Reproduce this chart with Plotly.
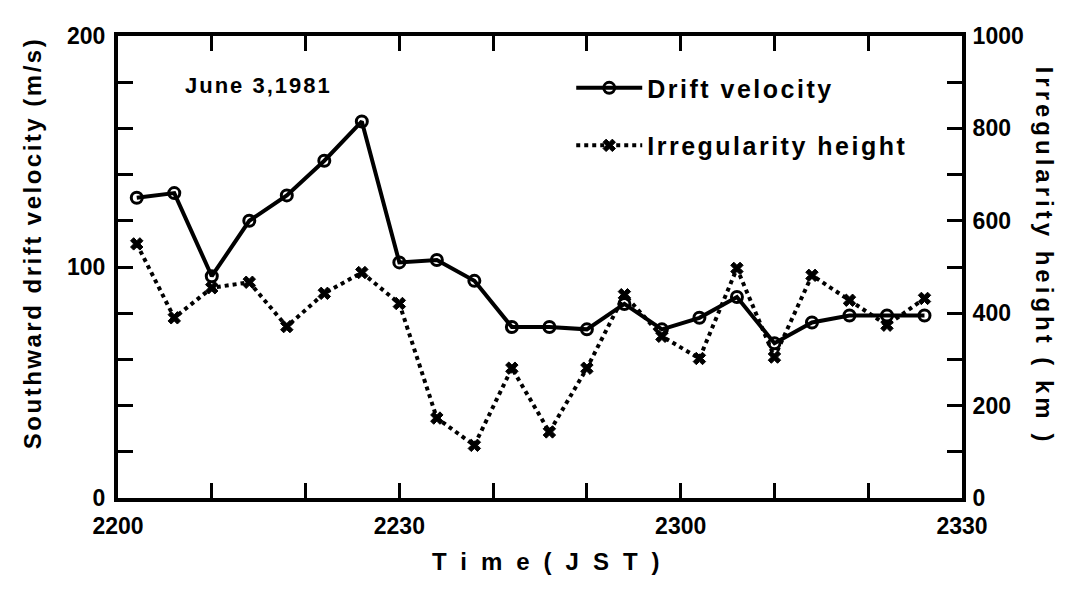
import plotly.graph_objects as go

# Observation times (JST, HHMM), June 3, 1981
times = ["2202", "2206", "2210", "2214", "2218", "2222", "2226", "2230",
         "2234", "2238", "2242", "2246", "2250", "2254", "2258", "2302",
         "2306", "2310", "2314", "2318", "2322", "2326"]

# Southward drift velocity (m/s)
drift_velocity = [130, 132, 96, 120, 131, 146, 163, 102,
                  103, 94, 74, 74, 73, 84, 73, 78,
                  87, 67, 76, 79, 79, 79]

# Irregularity height (km)
irregularity_height = [550, 390, 455, 467, 371, 443, 488, 421,
                       173, 114, 281, 143, 281, 440, 350, 302,
                       497, 305, 482, 428, 374, 432]

x_tick_labels = ["2200", "2230", "2300", "2330"]
left_tick_labels = [0, 100, 200]
right_tick_labels = [0, 200, 400, 600, 800, 1000]

DAY = "1981-06-03"


def to_stamp(hhmm):
    return f"{DAY} {hhmm[:2]}:{hhmm[2:]}"


def spaced(text, px):
    return f'<span style="letter-spacing:{px}px">{text}</span>'


x = [to_stamp(t) for t in times]
x_ticks = [to_stamp(t) for t in x_tick_labels]

FONT = "Liberation Sans, Arial, sans-serif"
INK = "black"

fig = go.Figure()

fig.add_trace(go.Scatter(
    x=x, y=drift_velocity, name=spaced("Drift velocity", 2.5),
    mode="lines+markers", legendgroup="v",
    line=dict(color=INK, width=4),
    marker=dict(symbol="circle-open", size=11, color=INK, line=dict(width=3, color=INK)),
))

fig.add_trace(go.Scatter(
    x=x, y=irregularity_height, name=spaced("Irregularity height", 2.5),
    mode="lines+markers", legendgroup="h", yaxis="y2",
    line=dict(color=INK, width=4, dash="dot"),
    marker=dict(symbol="x", size=11, color=INK, line=dict(width=1, color=INK)),
))

tick_font = dict(family=FONT, size=23, color=INK, weight="bold")

fig.update_layout(
    width=1078, height=593,
    margin=dict(l=118, r=116, t=36, b=95),
    paper_bgcolor="white", plot_bgcolor="white",
    showlegend=True,
    legend=dict(
        x=0.537, y=0.937, xanchor="left", yanchor="top",
        bgcolor="rgba(0,0,0,0)", borderwidth=0,
        font=dict(family=FONT, size=25, color=INK, weight="bold"),
        traceorder="grouped", tracegroupgap=22, itemwidth=66,
    ),
    xaxis=dict(
        range=[to_stamp("2200"), to_stamp("2330")],
        tickmode="array", tickvals=x_ticks, ticktext=x_tick_labels,
        ticks="inside", ticklen=15, tickwidth=3, tickcolor=INK,
        minor=dict(dtick=600000, tick0=to_stamp("2200"), ticks="inside",
                   ticklen=15, tickwidth=3, tickcolor=INK),
        showline=True, linewidth=4, linecolor=INK, mirror="ticks",
        showgrid=False, zeroline=False,
        tickfont=tick_font, ticklabelstandoff=4,
    ),
    yaxis=dict(
        range=[0, 200],
        tickmode="array", tickvals=left_tick_labels,
        ticks="inside", ticklen=15, tickwidth=3, tickcolor=INK,
        minor=dict(dtick=20, ticks="inside", ticklen=15, tickwidth=3, tickcolor=INK),
        showline=True, linewidth=4, linecolor=INK,
        showgrid=False, zeroline=False,
        tickfont=tick_font, ticklabelstandoff=4,
    ),
    yaxis2=dict(
        overlaying="y", side="right", range=[0, 1000],
        tickmode="array", tickvals=right_tick_labels,
        ticks="inside", ticklen=15, tickwidth=3, tickcolor=INK,
        minor=dict(dtick=100, ticks="inside", ticklen=15, tickwidth=3, tickcolor=INK),
        showline=True, linewidth=4, linecolor=INK,
        showgrid=False, zeroline=False,
        tickfont=tick_font, ticklabelstandoff=2,
    ),
)

title_font = dict(family=FONT, size=24, color=INK, weight="bold")

fig.add_annotation(
    text=spaced("June 3,1981", 2), xref="paper", yref="paper",
    x=0.166, y=0.893, xanchor="center", yanchor="middle",
    showarrow=False, font=dict(family=FONT, size=22, color=INK, weight="bold"),
)
fig.add_annotation(
    text=spaced("Southward drift velocity (m/s)", 2.5),
    xref="paper", yref="paper", x=-0.101, y=0.551,
    xanchor="center", yanchor="middle", textangle=-90,
    showarrow=False, font=title_font,
)
fig.add_annotation(
    text=spaced("Irregularity height ( km )", 4),
    xref="paper", yref="paper", x=1.098, y=0.523,
    xanchor="center", yanchor="middle", textangle=90,
    showarrow=False, font=title_font,
)
fig.add_annotation(
    text=spaced("Time(JST)", 14),
    xref="paper", yref="paper", x=0.515, y=-0.138,
    xanchor="center", yanchor="middle",
    showarrow=False, font=title_font,
)

fig.write_html("out.html")
